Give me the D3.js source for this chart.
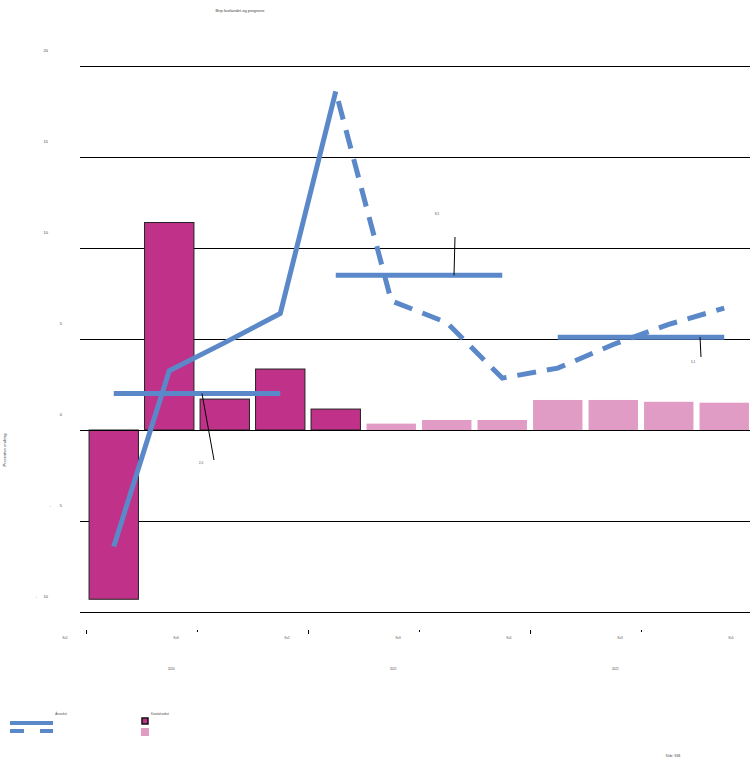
<!DOCTYPE html>
<html><head><meta charset="utf-8">
<script src="https://cdn.jsdelivr.net/npm/d3@7"></script>
<style>body{margin:0;background:#fff}svg{font-family:"Liberation Sans",Arial,sans-serif}</style>
</head><body><svg id="c" width="750" height="757"></svg>
<script>
const quarters = ["K1","K2","K3","K4","K1","K2","K3","K4","K1","K2","K3","K4"];
const years = ["2020","2021","2022"];
const quarterTickLabels = ["Kv1","Kv3","Kv1","Kv3","Kv1","Kv3","Kv1"];
const quarterlyGrowth = [-9.3, 11.4, 1.7, 3.35, 1.15, 0.35, 0.55, 0.55, 1.65, 1.65, 1.55, 1.5];
const isForecast = [false,false,false,false,false,true,true,true,true,true,true,true];
const annualGrowthLine = [-6.4, 3.25, 4.8, 6.4, 18.6, 7.1, 5.9, 2.85, 3.4, 4.7, 5.8, 6.7];
const actualCount = 5;
const yearAverages = [2.0, 8.5, 5.1];
const yearAverageLabels = ["2,0","8,5","5,1"];
const yTicks = [-10,-5,0,5,10,15,20];

const svg = d3.select("#c");
const x = d3.scaleBand().domain(d3.range(12)).range([86, 752]).paddingInner(0.11).paddingOuter(0.055);
const y = d3.scaleLinear().domain([-10, 20]).range([612, 66]);
const blue = "#5b88c8", dark = "#c0328a", light = "#e09cc4";

// title
svg.append("text").attr("x", 240).attr("y", 12).attr("text-anchor","middle").attr("font-size",4).attr("fill","#444").text("Bnp fastlandet og prognose");

// gridlines
svg.append("g").selectAll("line").data(yTicks).join("line")
  .attr("x1", 80).attr("x2", 750).attr("y1", d=>Math.round(y(d))+0.5).attr("y2", d=>Math.round(y(d))+0.5)
  .attr("stroke","#000").attr("stroke-width",1.2);

// y labels
const yl = svg.append("g").attr("font-size",4).attr("fill","#444");
yTicks.forEach(t=>{
  const a = Math.abs(t), two = a>=10;
  yl.append("text").attr("x", two?48:62).attr("y", y(t)-14).attr("text-anchor","end").text(a);
  if (t<0) yl.append("text").attr("x", two?37:51).attr("y", y(t)-14).attr("text-anchor","end").text("-");
});

// y axis title
svg.append("text").attr("transform","translate(6,450) rotate(-90)").attr("text-anchor","middle").attr("font-size",4).attr("fill","#444").text("Prosentvis endring");

// bars
svg.append("g").selectAll("rect").data(quarterlyGrowth).join("rect")
  .attr("x",(d,i)=>x(i)).attr("width",x.bandwidth())
  .attr("y",d=>y(Math.max(0,d))).attr("height",d=>Math.abs(y(d)-y(0)))
  .attr("fill",(d,i)=>isForecast[i]?light:dark)
  .attr("stroke",(d,i)=>isForecast[i]?"none":"#222").attr("stroke-width",1);

// zero line on top
svg.append("line").attr("x1",80).attr("x2",750).attr("y1",Math.round(y(0))+0.5).attr("y2",Math.round(y(0))+0.5).attr("stroke","#000").attr("stroke-width",1.2);

const cx = i => x(i)+x.bandwidth()/2;
// annual average lines
const av = svg.append("g");
yearAverages.forEach((v,k)=>{
  av.append("line").attr("x1",cx(k*4)).attr("x2",cx(k*4+3)).attr("y1",y(v)).attr("y2",y(v))
    .attr("stroke",blue).attr("stroke-width",5);
});

// growth line
const line = d3.line().x(d=>cx(d.i)).y(d=>y(d.v));
const pts = annualGrowthLine.map((v,i)=>({i,v}));
svg.append("path").attr("d", line(pts.slice(0,actualCount))).attr("fill","none").attr("stroke",blue).attr("stroke-width",5).attr("stroke-linejoin","round");
svg.append("path").attr("d", line(pts.slice(actualCount-1))).attr("fill","none").attr("stroke",blue).attr("stroke-width",5).attr("stroke-dasharray","19 11").attr("stroke-dashoffset",-10);

// annotations
const ann = [
  {x1:202,y1:y(yearAverages[0]),x2:214,y2:460,tx:201,ty:464},
  {x1:454,y1:y(yearAverages[1]),x2:455,y2:237,tx:437,ty:215},
  {x1:700,y1:y(yearAverages[2]),x2:701,y2:357,tx:693,ty:363}
];
ann.forEach((a,k)=>{
  svg.append("line").attr("x1",a.x1).attr("y1",a.y1).attr("x2",a.x2).attr("y2",a.y2).attr("stroke","#000").attr("stroke-width",1);
  svg.append("text").attr("x",a.tx).attr("y",a.ty).attr("text-anchor","middle").attr("font-size",3).attr("fill","#444").text(yearAverageLabels[k]);
});

// x ticks
const tickPos = d3.range(0,13,2).map(i=> i<12 ? x(i)-x.step()*x.paddingInner()/2 : x(11)+x.bandwidth()+x.step()*x.paddingInner()/2);
const xt = svg.append("g");
tickPos.slice(0,6).forEach((p,k)=>{
  xt.append("line").attr("x1",Math.round(p)+0.5).attr("x2",Math.round(p)+0.5).attr("y1",630).attr("y2",k%2===0?634:632).attr("stroke","#000").attr("stroke-width",1);
});
tickPos.forEach((p,k)=>{
  xt.append("text").attr("x",p-21).attr("y",639).attr("text-anchor","middle").attr("font-size",3).attr("fill","#444").text(quarterTickLabels[k]);
});
years.forEach((yr,k)=>{
  xt.append("text").attr("x",cx(k*4+1)+2).attr("y",670).attr("text-anchor","middle").attr("font-size",3).attr("fill","#444").text(yr);
});

// legend
const lg = svg.append("g");
lg.append("text").attr("x",61).attr("y",715).attr("text-anchor","middle").attr("font-size",3).attr("fill","#444").text("Årsvekst");
lg.append("line").attr("x1",10).attr("x2",53).attr("y1",723).attr("y2",723).attr("stroke",blue).attr("stroke-width",4);
lg.append("line").attr("x1",10).attr("x2",53).attr("y1",731).attr("y2",731).attr("stroke",blue).attr("stroke-width",4).attr("stroke-dasharray","14 16");
lg.append("text").attr("x",160).attr("y",715).attr("text-anchor","middle").attr("font-size",3).attr("fill","#444").text("Kvartalsvekst");
lg.append("rect").attr("x",142).attr("y",718).attr("width",6).attr("height",6).attr("fill",dark).attr("stroke","#111").attr("stroke-width",1.5);
lg.append("rect").attr("x",141).attr("y",728).attr("width",8).attr("height",8).attr("fill",light);

// source
svg.append("text").attr("x",673).attr("y",757).attr("text-anchor","middle").attr("font-size",3).attr("fill","#444").text("Kilde: SSB");
</script></body></html>
